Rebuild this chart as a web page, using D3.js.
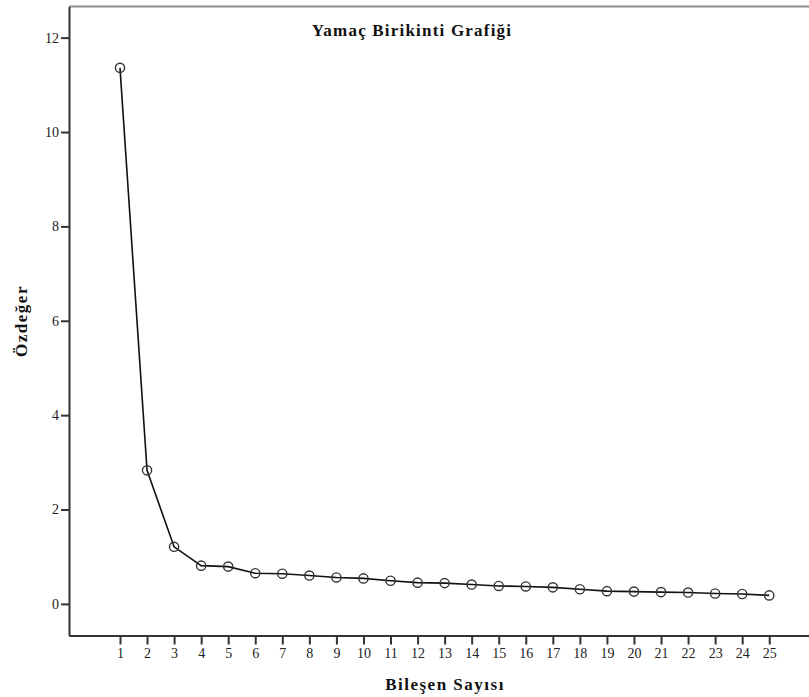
<!DOCTYPE html>
<html>
<head>
<meta charset="utf-8">
<script src="https://cdn.jsdelivr.net/npm/d3@7"></script>
<style>
  body { margin: 0; background: #fff; }
  svg { display: block; }
  .tick text { font-family: "Liberation Serif", serif; font-size: 14px; fill: #222; }
</style>
</head>
<body>
<svg width="809" height="697"></svg>
<script>
const components = d3.range(1, 26); // 1..25
const eigenvalues = [11.36, 2.83, 1.21, 0.81, 0.79, 0.65, 0.64, 0.60, 0.56, 0.54,
  0.49, 0.45, 0.44, 0.41, 0.38, 0.37, 0.35, 0.31, 0.27, 0.26,
  0.25, 0.24, 0.22, 0.21, 0.18];
const yTicks = [0, 2, 4, 6, 8, 10, 12];
const titleText = 'Yamaç Birikinti Grafiği';
const xLabel = 'Bileşen Sayısı';
const yLabel = 'Özdeğer';

const svg = d3.select('svg');

// scales tuned so 1 -> x 120, 25 -> x 769, 0 -> y 604, 12 -> y 37.5
const xScale = d3.scaleLinear().domain([-0.885, 26.47]).range([69, 809]);
const yScale = d3.scaleLinear().domain([-0.67, 12.66]).range([635.5, 6.5]);

// top frame line (gray)
svg.append('line')
  .attr('x1', 69).attr('x2', 809)
  .attr('y1', 6.5).attr('y2', 6.5)
  .attr('stroke', '#8c8c8c').attr('stroke-width', 2);

const xAxis = svg.append('g')
  .attr('transform', 'translate(0,635.5)')
  .call(d3.axisBottom(xScale).tickValues(components).tickSize(9).tickSizeOuter(0).tickPadding(4));

const yAxis = svg.append('g')
  .attr('transform', 'translate(69,0)')
  .call(d3.axisLeft(yScale).tickValues(yTicks).tickSize(8).tickSizeOuter(0).tickPadding(2));

[xAxis, yAxis].forEach(ax => {
  ax.select('.domain').attr('stroke', '#333').attr('stroke-width', 2);
  ax.selectAll('.tick line').attr('stroke', '#333').attr('stroke-width', 2);
});

const line = d3.line()
  .x((d, i) => xScale(components[i]))
  .y(d => yScale(d));

svg.append('path')
  .datum(eigenvalues)
  .attr('d', line)
  .attr('fill', 'none')
  .attr('stroke', '#111')
  .attr('stroke-width', 1.6);

svg.selectAll('.pt')
  .data(eigenvalues)
  .enter()
  .append('circle')
  .classed('pt', true)
  .attr('cx', (d, i) => xScale(components[i]))
  .attr('cy', d => yScale(d))
  .attr('r', 4.6)
  .attr('fill', 'none')
  .attr('stroke', '#333')
  .attr('stroke-width', 1.4);

// labels: the original font is wider, so a bit of letter spacing
svg.append('text')
  .attr('x', 412).attr('y', 36)
  .attr('text-anchor', 'middle')
  .attr('font-family', '"Liberation Serif", serif')
  .attr('font-weight', 'bold')
  .attr('font-size', 17)
  .attr('letter-spacing', 1.2)
  .attr('fill', '#111')
  .text(titleText);

svg.append('text')
  .attr('x', 445).attr('y', 690)
  .attr('text-anchor', 'middle')
  .attr('font-family', '"Liberation Serif", serif')
  .attr('font-weight', 'bold')
  .attr('font-size', 17)
  .attr('letter-spacing', 1.5)
  .attr('fill', '#111')
  .text(xLabel);

svg.append('text')
  .attr('transform', 'translate(27,321) rotate(-90)')
  .attr('text-anchor', 'middle')
  .attr('font-family', '"Liberation Serif", serif')
  .attr('font-weight', 'bold')
  .attr('font-size', 17)
  .attr('letter-spacing', 1.5)
  .attr('fill', '#111')
  .text(yLabel);
</script>
</body>
</html>
